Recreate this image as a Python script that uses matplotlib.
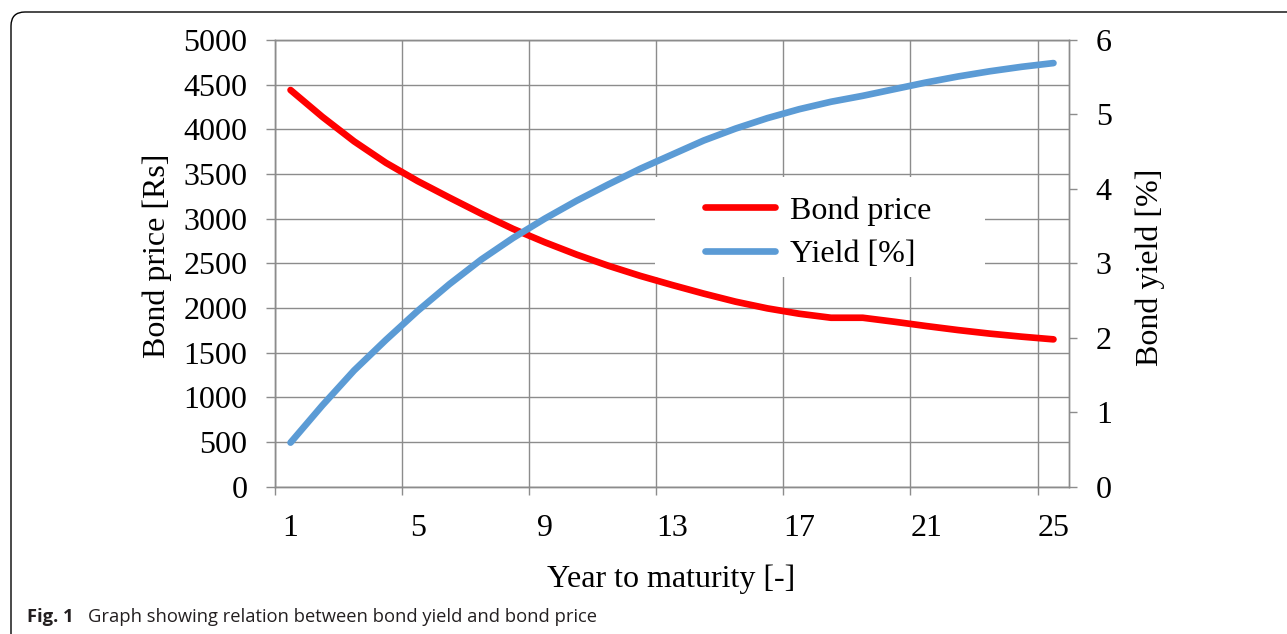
import numpy as np
import matplotlib
matplotlib.use("Agg")
from matplotlib import pyplot as plt
from matplotlib.patches import FancyBboxPatch, Rectangle
from matplotlib.transforms import IdentityTransform

years = list(range(1, 26))
bond_price = [4440, 4140, 3865, 3625, 3420, 3235, 3055, 2885, 2735, 2597,
              2472, 2359, 2257, 2160, 2070, 1995, 1935, 1890, 1890, 1845,
              1797, 1752, 1712, 1678, 1648]
bond_yield = [0.59, 1.09, 1.56, 1.97, 2.36, 2.72, 3.05, 3.34, 3.60, 3.84,
              4.06, 4.27, 4.46, 4.65, 4.81, 4.95, 5.07, 5.17, 5.25, 5.34,
              5.43, 5.51, 5.58, 5.64, 5.69]
year_labels = [1, 5, 9, 13, 17, 21, 25]
price_ticks = list(range(0, 5001, 500))
yield_ticks = list(range(0, 7))

GRID = "#8c8c8c"
FS = 23
plt.rcParams["font.family"] = ["Liberation Serif", "DejaVu Serif"]

fig = plt.figure(figsize=(12.87, 6.34), dpi=100)
ax = fig.add_axes([0.2134, 0.2326, 0.6175, 0.7043])
ax2 = ax.twinx()

ax.plot(years, bond_price, color="#ff0000", lw=4.8, solid_capstyle="round",
        label="Bond price", zorder=3)
ax2.plot(years, bond_yield, color="#5b9bd5", lw=4.8, solid_capstyle="round",
         label="Yield [%]")

ax.set_xlim(0.5, 25.5)
ax.set_ylim(0, 5000)
ax2.set_ylim(0, 6)
ax.set_yticks(price_ticks)
ax2.set_yticks(yield_ticks)
ax.set_xticks(np.arange(0.5, 25, 4))
ax.set_xticklabels([])
ax.set_xticks(year_labels, minor=True)
ax.set_xticklabels([str(v) for v in year_labels], minor=True)

ax.tick_params(axis="x", which="major", length=5.5, color=GRID, width=1)
ax.tick_params(axis="x", which="minor", length=0, pad=19.5, labelsize=FS)
ax.tick_params(axis="y", length=6.5, color=GRID, width=1, pad=13, labelsize=FS)
ax2.tick_params(axis="y", length=6, color=GRID, width=1, pad=13, labelsize=FS)

ax.set_axisbelow(True)
ax.grid(True, which="major", color=GRID, lw=1)
for a in (ax, ax2):
    for s in a.spines.values():
        s.set_color(GRID)
        s.set_linewidth(1)

# white box behind the legend hides the grid
ax.add_patch(Rectangle((0.4785, 0.469), 0.4153, 0.224, transform=ax.transAxes,
                       facecolor="white", edgecolor="none", zorder=2))
h1, l1 = ax.get_legend_handles_labels()
h2, l2 = ax2.get_legend_handles_labels()
ax2.legend(h1 + h2, l1 + l2, loc="center left", bbox_to_anchor=(0.5415, 0.569),
           frameon=False, fontsize=FS, handlelength=2.19, handletextpad=0.46,
           labelspacing=0.43, borderpad=0, borderaxespad=0)

ax.set_ylabel("Bond price [Rs]", fontsize=FS)
ax.yaxis.set_label_coords(-0.1292, 0.5174)
ax2.set_ylabel("Bond yield [%]", fontsize=FS)
ax2.yaxis.set_label_coords(1.0838, 0.4916)
ax.set_xlabel("Year to maturity [-]", fontsize=FS)
ax.xaxis.set_label_coords(0.4987, -0.1742)

frame = FancyBboxPatch((11, -30), 1320, 634 - 12 + 30,
                       boxstyle="round,pad=0,rounding_size=14",
                       transform=IdentityTransform(), facecolor="none",
                       edgecolor="black", lw=1)
fig.add_artist(frame)

cap_y = 1 - 622 / 634
fig.text(27 / 1287, cap_y, "Fig. 1", family="Open Sans", weight="bold",
         fontsize=13.2, color="#231f20", va="baseline")
fig.text(88 / 1287, cap_y, "Graph showing relation between bond yield and bond price",
         family="Open Sans", fontsize=13.2, color="#231f20", va="baseline")

fig.savefig("out.png", dpi=100)
